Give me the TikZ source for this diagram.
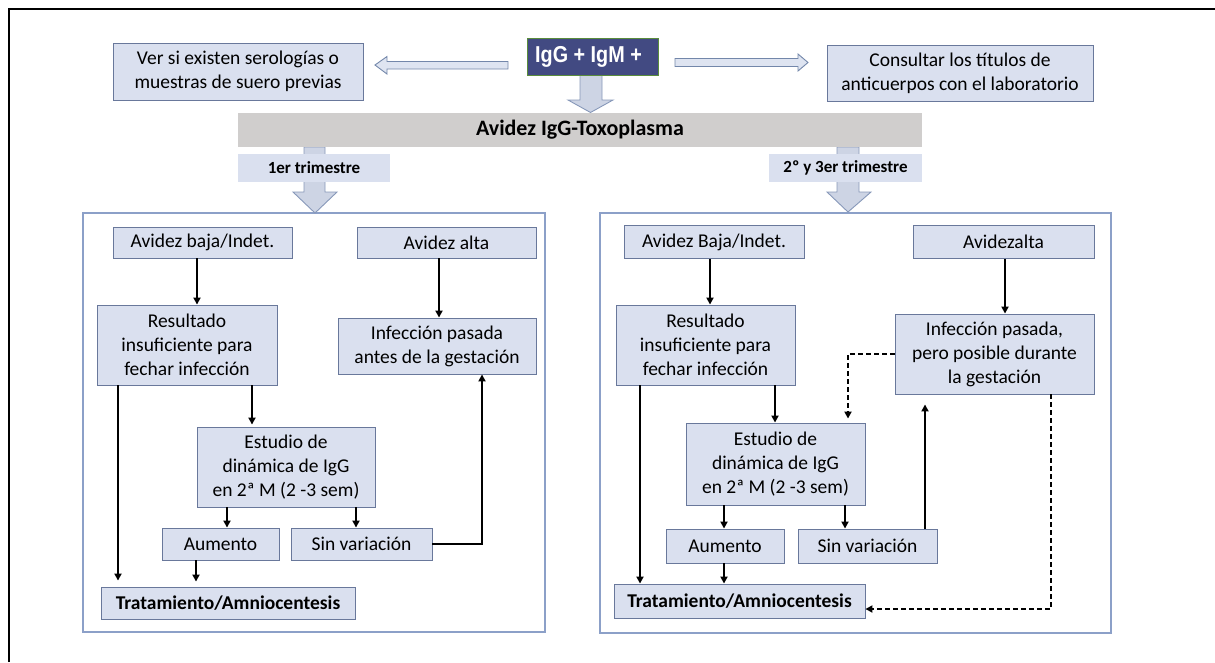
\documentclass[tikz,border=0pt]{standalone}
\usepackage{fontspec}
\setmainfont{Carlito}
\newfontfamily\iggfont[FakeStretch=0.86]{Liberation Sans}
\usetikzlibrary{arrows.meta,calc}
\definecolor{boxfill}{RGB}{218,224,239}
\definecolor{boxline}{RGB}{105,120,155}
\definecolor{panelline}{RGB}{140,160,200}
\definecolor{iggfill}{RGB}{66,74,130}
\definecolor{iggline}{RGB}{90,140,60}
\definecolor{barfill}{RGB}{208,206,205}
\definecolor{blockfill}{RGB}{205,212,228}
\definecolor{blockline}{RGB}{135,152,185}
\definecolor{hollowfill}{RGB}{222,228,241}
\definecolor{hollowline}{RGB}{115,135,170}
\begin{document}
\begin{tikzpicture}[x=1pt,y=-1pt,
  box/.style={draw=boxline, line width=0.9pt, fill=boxfill, inner sep=0pt, align=center,
    font=\fontsize{19.5}{24}\selectfont},
  boldbox/.style={box, font=\fontsize{19.5}{24}\selectfont\bfseries},
  tlabel/.style={fill=boxfill, inner sep=0pt, minimum height=28pt, font=\fontsize{17}{20}\selectfont\bfseries},
  panel/.style={draw=panelline, line width=1.1pt},
  arr/.style={line width=2pt, -{Triangle[length=7pt,width=7pt]}},
  thickarr/.style={line width=2.6pt, -{Triangle[length=7pt,width=7pt]}},
  dasharr/.style={line width=1.9pt, dash pattern=on 5pt off 3pt, -{Triangle[length=7pt,width=7pt]}},
  block/.style={fill=blockfill, draw=blockline, line width=0.9pt},
  hollow/.style={fill=hollowfill, draw=hollowline, line width=0.9pt}
]
\useasboundingbox (0,0) rectangle (1215,662);
% outer frame (top and left edges)
\draw[line width=2pt] (9,662) -- (9,9) -- (1215,9);

% panels
\draw[panel] (83,213) rectangle (545,632);
\draw[panel] (600,213) rectangle (1111,633);

% block arrows
\draw[block] (580,75) -- (602,75) -- (602,100) -- (613,100) -- (590.5,112.5) -- (568,100) -- (580,100) -- cycle;
\draw[block] (304,147) -- (325,147) -- (325,192) -- (337,192) -- (315,213) -- (293,192) -- (304,192) -- cycle;
\draw[block] (837,147) -- (859,147) -- (859,192) -- (871,192) -- (848,212) -- (827,192) -- (837,192) -- cycle;
\draw[hollow] (508,61.5) -- (387,61.5) -- (387,56.5) -- (375,65) -- (387,74) -- (387,69) -- (508,69) -- cycle;
\draw[hollow] (675,58.5) -- (798,58.5) -- (798,54) -- (808,62.5) -- (798,71) -- (798,66.5) -- (675,66.5) -- cycle;

% top nodes
\node[box, minimum width=250pt, minimum height=57pt] (ver) at (238,71.5) {Ver si existen serologías o\\muestras de suero previas};
\node[draw=iggline, line width=0.9pt, fill=iggfill, text=white, minimum width=131pt, minimum height=37pt, inner sep=0pt,
  font=\fontsize{23}{26}\iggfont\bfseries] (igg) at (592.5,56.5) {\hspace*{-8pt}IgG + IgM +};
\node[box, minimum width=266pt, minimum height=56pt] (cons) at (960,73) {Consultar los títulos de\\anticuerpos con el laboratorio};
\node[fill=barfill, minimum width=684pt, minimum height=34pt, inner sep=0pt,
  font=\fontsize{22}{26}\selectfont\bfseries] (bar) at (580,130) {Avidez IgG-Toxoplasma};
\node[tlabel, minimum width=152pt] (t1) at (314,168) {1er trimestre};
\node[tlabel, minimum width=153pt] (t2) at (845.5,168) {2º y 3er trimestre};

% left panel
\node[box, minimum width=179pt, minimum height=31pt] (lbaja) at (202.5,242.5) {Avidez baja/Indet.};
\node[box, minimum width=179pt, minimum height=31pt] (lalta) at (446.5,242.5) {Avidez alta};
\node[box, minimum width=180pt, minimum height=80pt] (lres) at (187,345) {Resultado\\insuficiente para\\fechar infección};
\node[box, minimum width=198pt, minimum height=56pt] (linf) at (437,346) {Infección pasada\\antes de la gestación};
\node[box, minimum width=178pt, minimum height=80pt] (lest) at (286,467) {Estudio de\\dinámica de IgG\\en 2ª M (2 -3 sem)};
\node[box, minimum width=117pt, minimum height=32pt] (laum) at (220.5,544) {Aumento};
\node[box, minimum width=141pt, minimum height=32pt] (lsin) at (361.5,544) {Sin variación};
\node[boldbox, minimum width=254pt, minimum height=32pt] (ltra) at (228,603) {Tratamiento/Amniocentesis};

\draw[arr] (197,0 |- lbaja.south) -- (197,0 |- lres.north);
\draw[arr] (439,0 |- lalta.south) -- (439,0 |- linf.north);
\draw[arr, shorten >=6pt] (118,0 |- lres.south) -- (118,0 |- ltra.north);
\draw[arr, shorten >=2pt] (252,0 |- lres.south) -- (252,0 |- lest.north);
\draw[arr] (227,0 |- lest.south) -- (227,0 |- laum.north);
\draw[arr] (356,0 |- lest.south) -- (356,0 |- lsin.north);
\draw[arr, shorten >=5pt] (196,0 |- laum.south) -- (196,0 |- ltra.north);
\draw[thickarr] (lsin.east) -| (482,0 |- linf.south);

% right panel
\node[box, minimum width=180pt, minimum height=33pt] (rbaja) at (714,242) {Avidez Baja/Indet.};
\node[box, minimum width=181pt, minimum height=33pt] (ralta) at (1003.5,242) {Avidezalta};
\node[box, minimum width=179pt, minimum height=80pt] (rres) at (705.5,345) {Resultado\\insuficiente para\\fechar infección};
\node[box, minimum width=199pt, minimum height=80pt] (rinf) at (994.5,354) {Infección pasada,\\pero posible durante\\la gestación};
\node[box, minimum width=179pt, minimum height=82pt] (rest) at (775.5,464) {Estudio de\\dinámica de IgG\\en 2ª M (2 -3 sem)};
\node[box, minimum width=118pt, minimum height=34pt] (raum) at (725,546) {Aumento};
\node[box, minimum width=139pt, minimum height=34pt] (rsin) at (867.5,546) {Sin variación};
\node[boldbox, minimum width=251pt, minimum height=34pt] (rtra) at (739.5,601) {Tratamiento/Amniocentesis};

\draw[arr] (710,0 |- rbaja.south) -- (710,0 |- rres.north);
\draw[arr] (1005,0 |- ralta.south) -- (1005,0 |- rinf.north);
\draw[arr] (640,0 |- rres.south) -- (640,0 |- rtra.north);
\draw[arr] (775,0 |- rres.south) -- (775,0 |- rest.north);
\draw[arr] (724,0 |- rest.south) -- (724,0 |- raum.north);
\draw[arr] (845,0 |- rest.south) -- (845,0 |- rsin.north);
\draw[arr] (724,0 |- raum.south) -- (724,0 |- rtra.north);
\draw[arr, line width=2.2pt, shorten >=10pt] (925,0 |- rsin.north) -- (925,0 |- rinf.south);
\draw[dasharr, shorten >=4pt] (rinf.west) -| (848,0 |- rest.north);
\draw[dasharr] (1051,0 |- rinf.south) |- (rtra.east |- 0,609);
\end{tikzpicture}
\end{document}
